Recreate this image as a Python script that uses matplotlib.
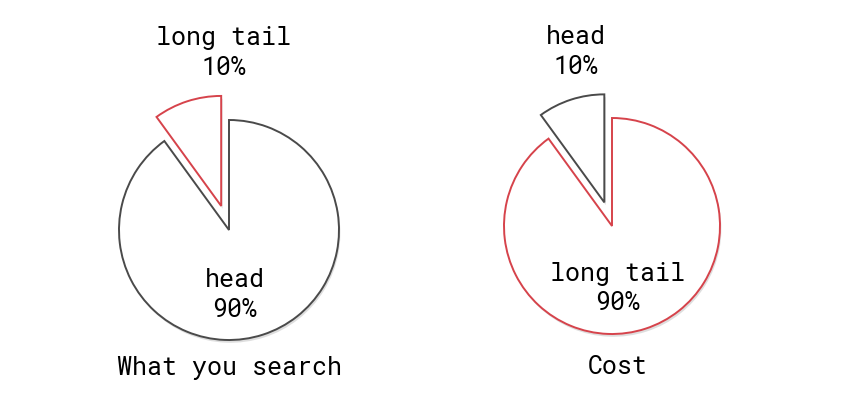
import matplotlib
matplotlib.use('Agg')
import matplotlib.pyplot as plt
import matplotlib.patheffects as pe

plt.rcParams['font.family'] = ['Roboto Mono', 'DejaVu Sans Mono']

# both pies share the same split: small slice 10%, big slice 90%
shares = [10, 90]
left_labels = ['long tail', 'head']
right_labels = ['head', 'long tail']
titles = ['What you search', 'Cost']

red = '#d6434b'
grey = '#4a4a4a'

W, H = 850, 403
fig = plt.figure(figsize=(8.5, 4.03), dpi=100)


def draw_pie(cx, cy, r, labels, edges, title, small_pos, big_pos, title_pos):
    # cx, cy: pie centre in pixels from top-left, r: radius in pixels
    box = 300
    ax = fig.add_axes([(cx - box / 2) / W, (H - cy - box / 2) / H, box / W, box / H])
    wedges, _ = ax.pie(shares, startangle=90, counterclock=True,
                       explode=[0.23, 0], colors=['white', 'white'],
                       wedgeprops=dict(linewidth=1.4))
    for w, c in zip(wedges, edges):
        w.set_edgecolor(c)
        w.set_path_effects([pe.SimplePatchShadow(offset=(1, -2), alpha=0.18),
                            pe.Normal()])
    lim = box / (2 * r)
    ax.set_xlim(-lim, lim)
    ax.set_ylim(-lim, lim)
    ax.set_aspect('equal')
    ax.axis('off')
    ax.text(small_pos[0], small_pos[1], f'{labels[0]}\n{shares[0]}%',
            ha='center', va='center', fontsize=18, linespacing=1.3, clip_on=False)
    ax.text(big_pos[0], big_pos[1], f'{labels[1]}\n{shares[1]}%',
            ha='center', va='center', fontsize=18, linespacing=1.3, clip_on=False)
    ax.text(title_pos[0], title_pos[1], title,
            ha='center', va='center', fontsize=18, clip_on=False)


draw_pie(229, 230, 110, left_labels, [red, grey], titles[0],
         (-0.05, 1.61), (0.05, -0.59), (0.0, -1.25))
draw_pie(612, 226, 108, right_labels, [grey, red], titles[1],
         (-0.33, 1.61), (0.05, -0.58), (0.05, -1.31))

plt.savefig('out.png', dpi=100, facecolor='white')
